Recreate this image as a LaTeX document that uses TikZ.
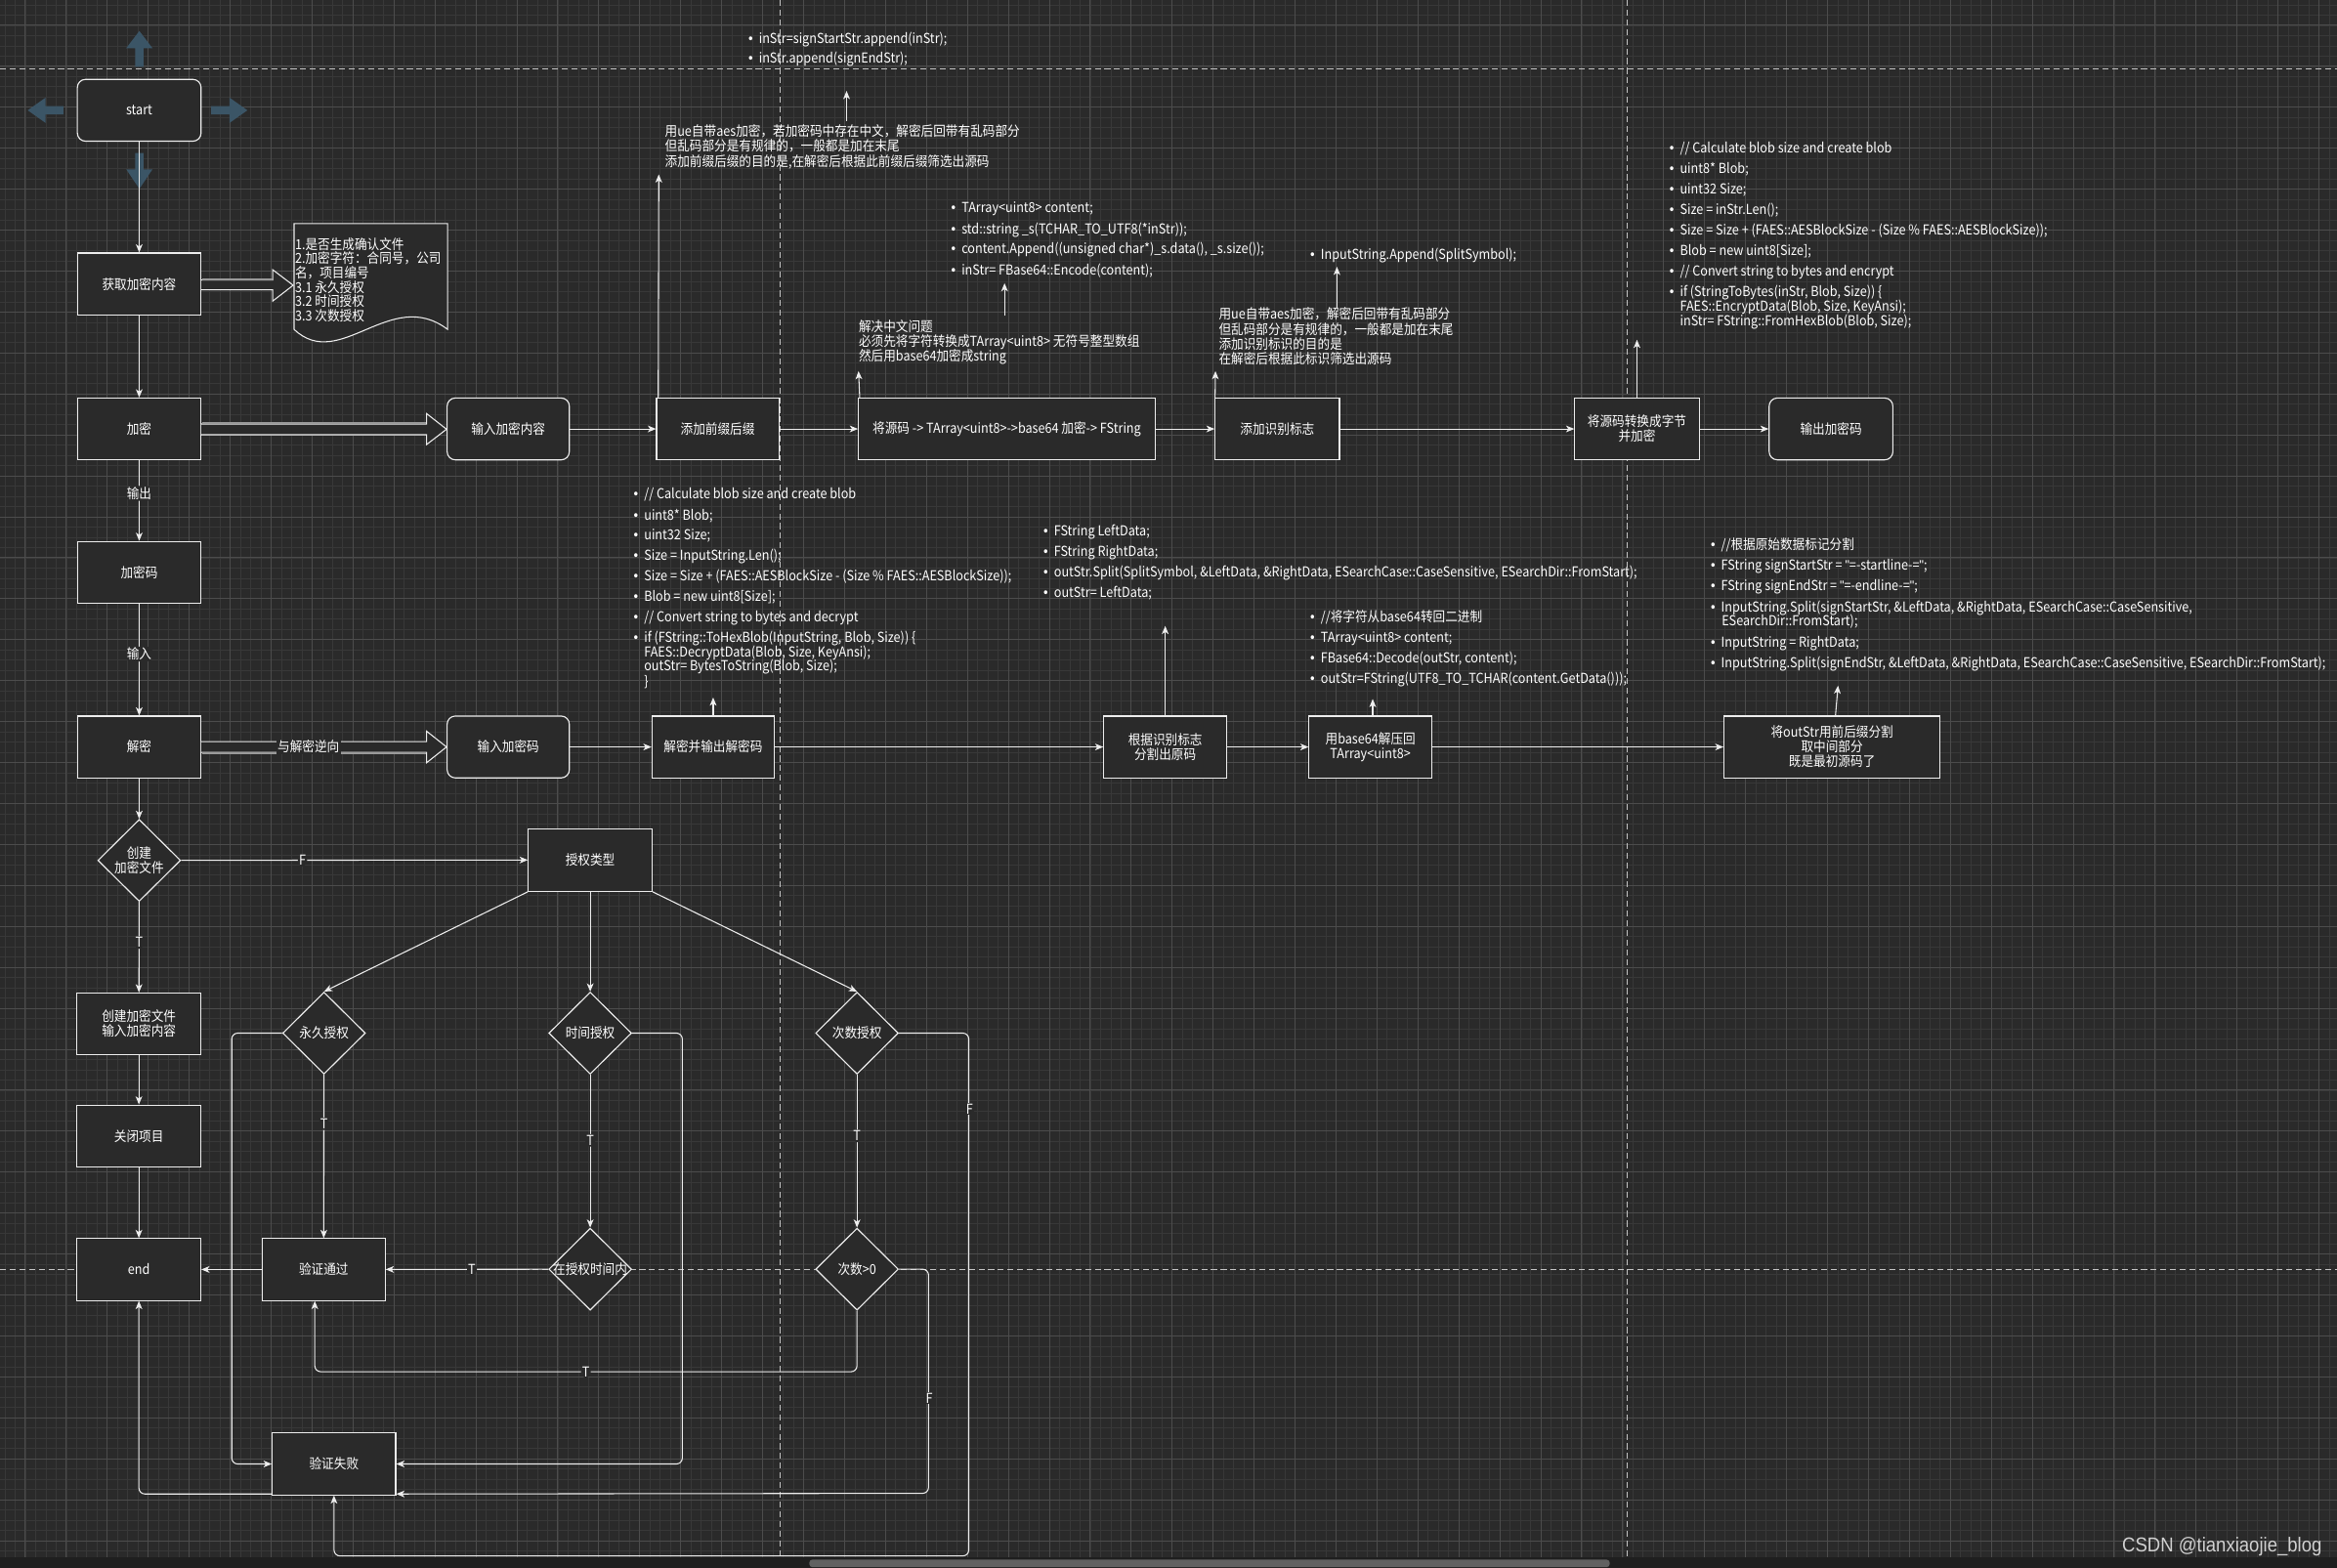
\documentclass[tikz,border=0pt]{standalone}
\usepackage{fontspec}
\setmainfont{Noto Sans CJK SC}[FakeStretch=0.9]
\newfontfamily\latf{Liberation Sans}[FakeStretch=0.9]
\usetikzlibrary{arrows.meta,shapes.geometric,calc}
\definecolor{bgc}{HTML}{2A2A2A}
\definecolor{gmin}{HTML}{383838}
\definecolor{gmaj}{HTML}{4C4C4C}
\definecolor{lnc}{HTML}{EDEDED}
\definecolor{hov}{HTML}{3B5566}
\definecolor{pgc}{HTML}{C4C4C4}
\definecolor{shd}{HTML}{9A9A9A}
\newcommand\nfont{\fontsize{9.2}{9.8}\selectfont}
\newcommand\bul{\makebox[7pt][l]{\latf\fontsize{9.5}{9.5}\selectfont •}}
\newcommand\dq{{\latf"}}
\newcommand\putline[4]{\node[txt] (#1) at (#2,#3) {#4};}
\newcommand\putbul[4]{\node[txt] (#1) at (#2,#3) {\bul#4};}
\tikzset{
  box/.style={draw=lnc, fill=bgc, line width=0.75pt, minimum width=83pt, minimum height=41.5pt, inner sep=1pt, text=white, font=\nfont, align=center},
  rbox/.style={box, rounded corners=5.5pt},
  dia/.style={diamond, draw=lnc, fill=bgc, line width=0.75pt, minimum width=55.5pt, minimum height=55pt, inner sep=0pt, text=white, font=\nfont, align=center},
  ed/.style={draw=lnc, line width=0.7pt, rounded corners=4pt, -{Stealth[length=5.5pt,width=4.5pt,inset=1.5pt]}},
  lbl/.style={fill=bgc, text=white, font=\nfont, inner sep=0.8pt},
  txt/.style={text=white, font=\nfont, inner sep=0pt, anchor=west, text height=8pt, text depth=1.5pt},
  pgb/.style={draw=pgc, line width=0.7pt, dash pattern=on 4pt off 2.5pt},
  blk/.style={draw=lnc, line width=0.7pt, fill=bgc},
}
\begin{document}
\begin{tikzpicture}[x=1pt,y=-1pt]
\useasboundingbox (0,0) rectangle (1568,1052);
\fill[bgc] (0,0) rectangle (1568,1052);
% grid
\foreach \i in {0,...,228} {\draw[gmin, line width=0.45pt] ({3.26+\i*6.87},0) -- ++(0,1052);}
\foreach \i in {0,...,152} {\draw[gmin, line width=0.45pt] (0,{3.26+\i*6.87}) -- ++(1568,0);}
\foreach \i in {0,...,56} {\draw[gmaj, line width=0.6pt] ({17+\i*27.48},0) -- ++(0,1052);}
\foreach \i in {0,...,37} {\draw[gmaj, line width=0.6pt] (0,{17+\i*27.48}) -- ++(1568,0);}
% page breaks
\draw[pgb] (0,46.5) -- (1568,46.5);
\draw[pgb] (0,851.6) -- (1568,851.6);
\draw[pgb] (523.5,0) -- (523.5,1045);
\draw[pgb] (1091.5,0) -- (1091.5,1045);
% scrollbar
\fill[black!88] (0,1045) rectangle (1568,1052);
\fill[black!62, rounded corners=2pt] (543,1046.5) rectangle (1080,1051.5);
% hover arrows around start
\fill[hov] (90.7,44.8) -- (96.3,44.8) -- (96.3,32.3) -- (102.3,32.3) -- (93.5,20.8) -- (84.7,32.3) -- (90.7,32.3) -- cycle;
\fill[hov] (90.7,102.7) -- (96.3,102.7) -- (96.3,113.6) -- (102.3,113.6) -- (93.5,126.7) -- (84.7,113.6) -- (90.7,113.6) -- cycle;
\fill[hov] (42.6,71.2) -- (30.6,71.2) -- (30.6,65.5) -- (18.6,74) -- (30.6,82.5) -- (30.6,76.8) -- (42.6,76.8) -- cycle;
\fill[hov] (141.6,71.2) -- (154,71.2) -- (154,65.5) -- (166,74) -- (154,82.5) -- (154,76.8) -- (141.6,76.8) -- cycle;

% ---------- nodes ----------
\node[rbox] (start) at (93.4,74) {start};
\node[box] (get) at (93.4,190.5) {获取加密内容};
\node[box] (enc) at (93.4,287.8) {加密};
\node[box] (code) at (93.4,384) {加密码};
\node[box] (dec) at (93.4,501.2) {解密};
\node[rbox, minimum width=82pt] (in1) at (341,287.8) {输入加密内容};
\node[box, minimum width=82pt] (pre) at (481.5,287.8) {添加前缀后缀};
\node[box, minimum width=199pt] (src) at (675.5,287.8) {将源码 -> TArray<uint8>->base64 加密-> FString};
\node[box, minimum width=83.4pt] (flag) at (857,287.8) {添加识别标志};
\node[box, minimum width=83.4pt] (bytes) at (1098.3,287.8) {将源码转换成字节\\并加密};
\node[rbox] (out) at (1228.5,287.8) {输出加密码};
\node[rbox, minimum width=82pt] (in2) at (341,501.2) {输入加密码};
\node[box, minimum width=82pt] (decout) at (478.5,501.2) {解密并输出解密码};
\node[box, minimum width=82.4pt] (split) at (781.8,501.2) {根据识别标志\\分割出原码};
\node[box, minimum width=82.4pt] (b64) at (919.5,501.2) {用base64解压回\\TArray<uint8>};
\node[box, minimum width=145pt] (final) at (1229.2,501.2) {将outStr用前后缀分割\\取中间部分\\既是最初源码了};
\node[dia] (c1) at (93.4,577.3) {\makebox[0pt]{创建}\\\makebox[0pt]{加密文件}};
\node[box, minimum height=42pt] (auth) at (396,577) {授权类型};
\node[box] (mk) at (93.2,687) {创建加密文件\\输入加密内容};
\node[box] (close) at (93.2,762.2) {关闭项目};
\node[box] (end) at (93.2,851.8) {end};
\node[dia] (d1) at (217.4,693.2) {\makebox[0pt]{永久授权}};
\node[dia] (d2) at (396,693.2) {\makebox[0pt]{时间授权}};
\node[dia] (d3) at (575,693.2) {\makebox[0pt]{次数授权}};
\node[box, minimum width=82.4pt] (pass) at (217.2,851.8) {验证通过};
\node[dia] (d4) at (396,851.6) {\makebox[0pt]{在授权时间内}};
\node[dia] (d5) at (575,851.6) {\makebox[0pt]{次数>0}};
\node[box, minimum width=82.8pt] (fail) at (224.1,982.3) {验证失败};

% document note
\draw[blk] (197.3,150) -- (300.3,150) -- (300.3,221) .. controls (262,192) and (228,250) .. (197.3,221) -- cycle;
\putline{n1}{197.8}{164}{1.是否生成确认文件}
\putline{n2}{197.8}{173.6}{2.加密字符：合同号，公司}
\putline{n3}{197.8}{183.2}{名，项目编号}
\putline{n4}{197.8}{192.8}{3.1 永久授权}
\putline{n5}{197.8}{202.4}{3.2 时间授权}
\putline{n6}{197.8}{212}{3.3 次数授权}

% block arrows
\draw[blk] (135,187.9) -- (183,187.9) -- (183,181) -- (196.7,191.4) -- (183,202) -- (183,194.5) -- (135,194.5);
\draw[shd, line width=1.5pt] (135.4,187.4) -- (182.6,187.4);
\draw[blk] (135,284.5) -- (286.2,284.5) -- (286.2,277.5) -- (299.6,288) -- (286.2,298.3) -- (286.2,291.7) -- (135,291.7);
\draw[shd, line width=1.5pt] (135.4,284) -- (285.8,284);
\draw[blk] (135,497.6) -- (286.2,497.6) -- (286.2,490.6) -- (299.6,501.2) -- (286.2,511.8) -- (286.2,504.8) -- (135,504.8);
\draw[shd, line width=1.5pt] (135.4,505.3) -- (285.8,505.3);
\node[lbl] (rev) at (207,501) {与解密逆向};

% ---------- edges ----------
\draw[ed] (start) -- (get);
\draw[ed] (get) -- (enc);
\draw[ed] (enc) -- node[lbl, pos=0.41] {输出} (code);
\draw[ed] (code) -- node[lbl, pos=0.45] {输入} (dec);
\draw[ed] (in1) -- (pre);
\draw[ed] (pre) -- (src);
\draw[ed] (src) -- (flag);
\draw[ed] (flag) -- (bytes);
\draw[ed] (bytes) -- (out);
\draw[ed] (in2) -- (decout);
\draw[ed] (decout) -- (split);
\draw[ed] (split) -- (b64);
\draw[ed] (b64) -- (final);
\draw[ed] (dec) -- (c1);
\draw[ed] (c1) -- node[lbl, pos=0.35] {F} (auth);
\draw[ed] (c1) -- node[lbl, pos=0.45] {T} (mk);
\draw[ed] (mk) -- (close);
\draw[ed] (close) -- (end);
\draw[ed] (auth.south west) -- (d1.north);
\draw[ed] (auth.south) -- (d2.north);
\draw[ed] (auth.south east) -- (d3.north);
\draw[ed] (d1) -- node[lbl, pos=0.3] {T} (pass);
\draw[ed] (d2) -- node[lbl, pos=0.43] {T} (d4);
\draw[ed] (d3) -- node[lbl, pos=0.4] {T} (d5);
\draw[ed] (d4) -- node[lbl, pos=0.47] {T} (pass);
\draw[ed] (pass) -- (end);
\draw[ed] (d5.south) -- (575,920.4) -| node[lbl, pos=0.25] {T} ($(pass.south)+(-6,0)$);
\draw[ed] (d1.west) -- (155.5,693.2) |- (fail.west);
\draw[ed] (d2.east) -- (457.8,693.2) |- (fail.east);
\draw[ed] (d3.east) -- (650,693.2) -- (650,1044) -| (fail.south);
\node[lbl] (fF1) at (650.5,744) {F};
\draw[ed] (d5.east) -- (623,851.6) -- (623,1002) -- ($(fail.south east)+(0,-1)$);
\node[lbl] (fF2) at (623.5,938) {F};
\draw[ed] ($(fail.south west)+(0,-1)$) -| (end.south);

% ---------- annotation coordinates ----------
\coordinate (p1) at (442,117);
\coordinate (p2s) at (568,81);
\coordinate (p2) at (568,61);
\coordinate (p3) at (576,249);
\coordinate (p4s) at (674,212);
\coordinate (p4) at (674,190);
\coordinate (p5) at (815.5,249);
\coordinate (p6s) at (897,206.6);
\coordinate (p6) at (897,179);
\coordinate (p7) at (1098.3,228);
\coordinate (p8) at (478.5,468);
\coordinate (p9) at (781.8,420);
\coordinate (p10) at (921,469);
\coordinate (p11) at (1233.2,460);
\draw[ed] ($(pre.north west)+(1.5,0)$) -- (p1);
\draw[ed] (p2s) -- (p2);
\draw[ed] ($(src.north west)+(1.2,0)$) -- (p3);
\draw[ed] (p4s) -- (p4);
\draw[ed] ($(flag.north west)+(0.3,0)$) -- (p5);
\draw[ed] (p6s) -- (p6);
\draw[ed] (bytes.north) -- (p7);
\draw[ed] (decout.north) -- (p8);
\draw[ed] (split.north) -- (p9);
\draw[ed] ($(b64.north)+(1.5,0)$) -- (p10);
\draw[ed] ($(final.north)+(2.3,0)$) -- (p11);

% ---------- annotation texts ----------
\putbul{a1}{502}{25.6}{inStr=signStartStr.append(inStr);}
\putbul{a2}{502}{39}{inStr.append(signEndStr);}

\putline{b1}{446}{88}{用ue自带aes加密，若加密码中存在中文，解密后回带有乱码部分}
\putline{b2}{446}{98.2}{但乱码部分是有规律的，一般都是加在末尾}
\putline{b3}{446}{108.2}{添加前缀后缀的目的是,在解密后根据此前缀后缀筛选出源码}

\putline{c1t}{576}{219.6}{解决中文问题}
\putline{c2t}{576}{229.4}{必须先将字符转换成TArray<uint8> 无符号整型数组}
\putline{c3t}{576}{239}{然后用base64加密成string}

\putbul{dd1}{638}{139}{TArray<uint8> content;}
\putbul{dd2}{638}{153.6}{std::string \_s(TCHAR\_TO\_UTF8(*inStr));}
\putbul{dd3}{638}{167}{content.Append((unsigned char*)\_s.data(), \_s.size());}
\putbul{dd4}{638}{181}{inStr= FBase64::Encode(content);}

\putline{e1}{817.6}{211}{用ue自带aes加密，解密后回带有乱码部分}
\putline{e2}{817.6}{221}{但乱码部分是有规律的，一般都是加在末尾}
\putline{e3}{817.6}{231}{添加识别标识的目的是}
\putline{e4}{817.6}{240.8}{在解密后根据此标识筛选出源码}

\putbul{f1}{879}{170.6}{InputString.Append(SplitSymbol);}

\putbul{g1}{1120}{99.2}{// Calculate blob size and create blob}
\putbul{g2}{1120}{113.4}{uint8* Blob;}
\putbul{g3}{1120}{127}{uint32 Size;}
\putbul{g4}{1120}{140.5}{Size = inStr.Len();}
\putbul{g5}{1120}{154.2}{Size = Size + (FAES::AESBlockSize - (Size \% FAES::AESBlockSize));}
\putbul{g6}{1120}{168}{Blob = new uint8[Size];}
\putbul{g7}{1120}{181.8}{// Convert string to bytes and encrypt}
\putbul{g8}{1120}{195.8}{if (StringToBytes(inStr, Blob, Size)) \{}
\putline{g9}{1127}{205.6}{FAES::EncryptData(Blob, Size, KeyAnsi);}
\putline{g10}{1127}{215.5}{inStr= FString::FromHexBlob(Blob, Size);}

\putbul{h1}{425}{331.3}{// Calculate blob size and create blob}
\putbul{h2}{425}{345.5}{uint8* Blob;}
\putbul{h3}{425}{359.2}{uint32 Size;}
\putbul{h4}{425}{373}{Size = InputString.Len();}
\putbul{h5}{425}{386.6}{Size = Size + (FAES::AESBlockSize - (Size \% FAES::AESBlockSize));}
\putbul{h6}{425}{400.3}{Blob = new uint8[Size];}
\putbul{h7}{425}{414}{// Convert string to bytes and decrypt}
\putbul{h8}{425}{427.9}{if (FString::ToHexBlob(InputString, Blob, Size)) \{}
\putline{h9}{432}{437.7}{FAES::DecryptData(Blob, Size, KeyAnsi);}
\putline{h10}{432}{447}{outStr= BytesToString(Blob, Size);}
\putline{h11}{432}{457}{\}}

\putbul{i1}{700}{356.6}{FString LeftData;}
\putbul{i2}{700}{370.2}{FString RightData;}
\putbul{i3}{700}{384.1}{outStr.Split(SplitSymbol, \&LeftData, \&RightData, ESearchCase::CaseSensitive, ESearchDir::FromStart);}
\putbul{i4}{700}{397.7}{outStr= LeftData;}

\putbul{j1}{879}{414}{//将字符从base64转回二进制}
\putbul{j2}{879}{427.9}{TArray<uint8> content;}
\putbul{j3}{879}{441.6}{FBase64::Decode(outStr, content);}
\putbul{j4}{879}{455.4}{outStr=FString(UTF8\_TO\_TCHAR(content.GetData()));}

\putbul{k1}{1147.6}{365.8}{//根据原始数据标记分割}
\putbul{k2}{1147.6}{379.5}{FString signStartStr = \dq=-startline-=\dq;}
\putbul{k3}{1147.6}{393.3}{FString signEndStr = \dq=-endline-=\dq;}
\putbul{k4}{1147.6}{407.3}{InputString.Split(signStartStr, \&LeftData, \&RightData, ESearchCase::CaseSensitive,}
\putline{k5}{1155}{416.7}{ESearchDir::FromStart);}
\putbul{k6}{1147.6}{430.9}{InputString = RightData;}
\putbul{k7}{1147.6}{444.5}{InputString.Split(signEndStr, \&LeftData, \&RightData, ESearchCase::CaseSensitive, ESearchDir::FromStart);}

% watermark
\node[text=white!82!black, font=\latf\fontsize{13.5}{14}\selectfont, inner sep=0pt, anchor=east] (wm) at (1558,1038) {CSDN @tianxiaojie\_blog};
\end{tikzpicture}
\end{document}
